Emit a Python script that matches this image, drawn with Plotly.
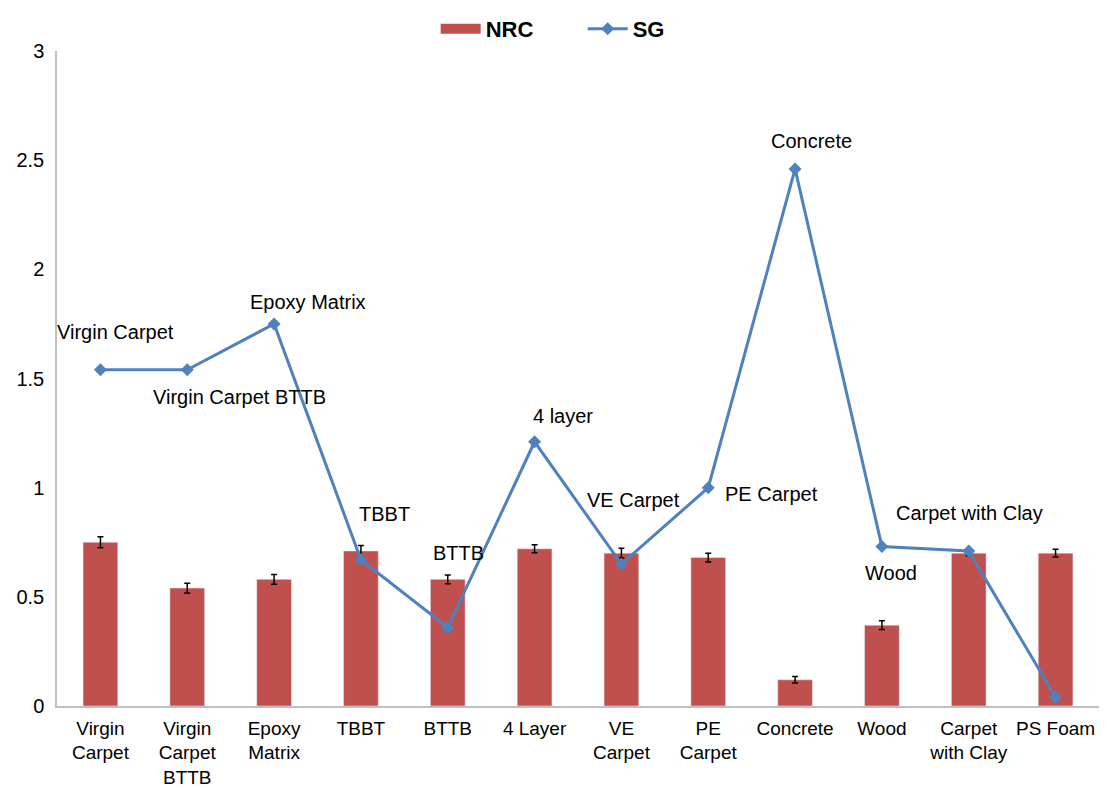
import plotly.graph_objects as go

categories = ['Virgin<br>Carpet', 'Virgin<br>Carpet<br>BTTB', 'Epoxy<br>Matrix', 'TBBT', 'BTTB',
              '4 Layer', 'VE<br>Carpet', 'PE<br>Carpet', 'Concrete', 'Wood',
              'Carpet<br>with Clay', 'PS Foam']
nrc = [0.75, 0.54, 0.58, 0.71, 0.58, 0.72, 0.70, 0.68, 0.12, 0.37, 0.70, 0.70]
nrc_err = [0.025, 0.022, 0.022, 0.025, 0.02, 0.018, 0.022, 0.02, 0.015, 0.02, 0.012, 0.018]
sg = [1.54, 1.54, 1.75, 0.67, 0.36, 1.21, 0.65, 1.00, 2.46, 0.73, 0.71, 0.04]
sg_labels = ['Virgin Carpet', 'Virgin Carpet BTTB', 'Epoxy Matrix', 'TBBT', 'BTTB',
             '4 layer', 'VE Carpet', 'PE Carpet', 'Concrete', 'Wood', 'Carpet with Clay', '']
# pixel offsets of each label from its point (x right, y up)
label_shift = [(15, 38), (52, -27), (34, 22), (24, 46), (11, 74), (28, 26),
               (12, 64), (63, -6), (16, 28), (9, -26), (1, 38), (0, 0)]

font = dict(family='Liberation Sans, Arial, sans-serif', size=20, color='black')
tick_font = dict(family='Liberation Sans, Arial, sans-serif', size=19, color='black')
legend_font = dict(family='Liberation Sans, Arial, sans-serif', size=22, color='black', weight='bold')

fig = go.Figure()

fig.add_trace(go.Bar(
    x=categories, y=nrc, name='NRC', showlegend=False,
    marker=dict(color='#C0504D'),
    width=0.4,
    error_y=dict(type='data', array=nrc_err, color='black', thickness=1.5, width=3),
))
# legend entry for the bars: a thick line gives the wide rectangle key
fig.add_trace(go.Scatter(
    x=[None], y=[None], name='NRC', mode='lines',
    line=dict(color='#C0504D', width=12),
))

fig.add_trace(go.Scatter(
    x=categories, y=sg, name='SG', mode='lines+markers',
    line=dict(color='#4F81BD', width=3),
    marker=dict(symbol='diamond', size=10, color='#4F81BD'),
))

for c, v, t, (dx, dy) in zip(categories, sg, sg_labels, label_shift):
    if t:
        fig.add_annotation(x=c, y=v, text=t, showarrow=False,
                           xshift=dx, yshift=dy, font=font)

fig.update_layout(
    width=1091, height=783,
    margin=dict(l=49, r=0, t=43, b=85),
    plot_bgcolor='white', paper_bgcolor='white',
    font=font,
    bargap=0.6,
    legend=dict(orientation='h', xref='container', x=0.392, xanchor='left',
                yref='container', y=1.0, yanchor='top',
                font=legend_font, itemwidth=40, entrywidth=92),
)
fig.update_xaxes(range=[-0.5, 11.5], showline=True, linecolor='#BFBFBF', linewidth=1.5,
                 showgrid=False, ticks='', tickfont=tick_font, automargin=False,
                 ticklabelstandoff=4)
fig.update_yaxes(range=[0, 3], dtick=0.5, showline=True, linecolor='#BFBFBF', linewidth=1.5,
                 showgrid=False, zeroline=False, ticks='', tickfont=font,
                 ticklabelstandoff=7, automargin=False)

fig.write_html("out.html")
